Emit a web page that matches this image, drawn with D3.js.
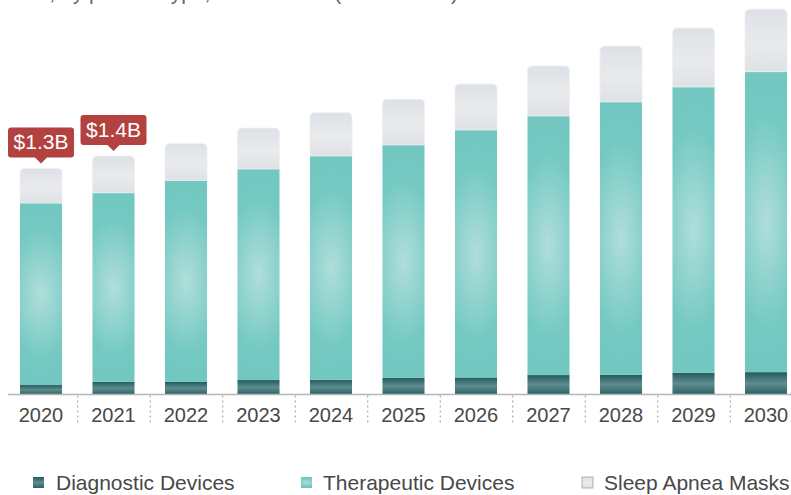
<!DOCTYPE html>
<html>
<head>
<meta charset="utf-8">
<script src="https://cdn.jsdelivr.net/npm/d3@7/dist/d3.min.js"></script>
<style>
  html, body { margin: 0; padding: 0; background: #fff; }
  svg { display: block; font-family: "Liberation Sans", Arial, Helvetica, sans-serif; }
</style>
</head>
<body>
<svg id="chart" width="791" height="495"></svg>
<script>
// Market size by product type, USD million
const years = ["2020", "2021", "2022", "2023", "2024", "2025", "2026", "2027", "2028", "2029", "2030"];
const diagnostic = [55, 74, 73, 84, 86, 97, 99, 113, 115, 127, 130];
const therapeutic = [1058, 1099, 1172, 1227, 1301, 1354, 1439, 1506, 1586, 1661, 1747];
const masks = [201, 214, 215, 238, 251, 265, 267, 291, 325, 343, 363];
const seriesNames = ["Diagnostic Devices", "Therapeutic Devices", "Sleep Apnea Masks"];
const calloutYears = ["2020", "2021"];
const titleText = "size, by product type, 2020 - 2030 (USD Million)";

const svg = d3.select("#chart");
const W = 791, H = 495;
const baseY = 394.5;

const x = d3.scaleBand()
  .domain(years)
  .range([4.75, 802.25])
  .paddingInner(0.42)
  .paddingOuter(0.21);

const y = d3.scaleLinear()
  .domain([0, 2300])
  .range([baseY, baseY - 2300 * 0.172]);

const defs = svg.append("defs");

// Diagnostic: dark teal with a lighter band through the middle
const gDiag = defs.append("linearGradient").attr("id", "gDiag")
  .attr("x1", 0).attr("y1", 0).attr("x2", 0).attr("y2", 1);
[[0, "#245b5c"], [0.5, "#5f8c8e"], [1, "#2a6264"]].forEach(([o, c]) =>
  gDiag.append("stop").attr("offset", o).attr("stop-color", c));

// Therapeutic: teal with a soft glow at the centre, spread across the bar width
const gTher = defs.append("radialGradient").attr("id", "gTher")
  .attr("cx", 0.5).attr("cy", 0.5).attr("r", 0.5)
  .attr("gradientTransform", "translate(0.5,0.5) scale(2.2,1) translate(-0.5,-0.5)");
[[0, "#b0dedb"], [0.72, "#74c9c2"], [1, "#72c8c1"]].forEach(([o, c]) =>
  gTher.append("stop").attr("offset", o).attr("stop-color", c));

// Masks: pale grey with a lighter middle band
const gMask = defs.append("linearGradient").attr("id", "gMask")
  .attr("x1", 0).attr("y1", 0).attr("x2", 0).attr("y2", 1);
[[0, "#dde1e6"], [0.55, "#e9eaec"], [1, "#dee2e6"]].forEach(([o, c]) =>
  gMask.append("stop").attr("offset", o).attr("stop-color", c));

// Title (second line of the heading, running into the top edge)
svg.append("text")
  .attr("x", 12).attr("y", 0)
  .attr("font-size", 21)
  .attr("fill", "#666")
  .text(titleText);

// Stacked bar data
const rows = years.map((yr, i) => ({
  year: yr,
  diag: diagnostic[i],
  ther: therapeutic[i],
  mask: masks[i],
  total: diagnostic[i] + therapeutic[i] + masks[i]
}));

const bw = x.bandwidth();
const bars = svg.append("g").selectAll("g").data(rows).join("g");

bars.append("rect")
  .attr("x", d => x(d.year))
  .attr("width", bw)
  .attr("y", d => y(d.diag))
  .attr("height", d => y(0) - y(d.diag))
  .attr("fill", "url(#gDiag)");

bars.append("rect")
  .attr("x", d => x(d.year))
  .attr("width", bw)
  .attr("y", d => y(d.diag + d.ther))
  .attr("height", d => y(d.diag) - y(d.diag + d.ther))
  .attr("fill", "url(#gTher)");

// Top segment with softened top corners
const r = 5;
bars.append("path")
  .attr("d", d => {
    const x0 = x(d.year), x1 = x0 + bw;
    const yt = y(d.total), yb = y(d.diag + d.ther);
    return `M${x0},${yb}L${x0},${yt + r}Q${x0},${yt} ${x0 + r},${yt}` +
      `L${x1 - r},${yt}Q${x1},${yt} ${x1},${yt + r}L${x1},${yb}Z`;
  })
  .attr("fill", "url(#gMask)")
  .attr("stroke", "#eef0f2")
  .attr("stroke-width", 0.8);

// Baseline
svg.append("line")
  .attr("x1", 8).attr("x2", W)
  .attr("y1", baseY).attr("y2", baseY)
  .attr("stroke", "#b5b5b5").attr("stroke-width", 1.5);

// Dashed dividers between categories
const step = x.step();
svg.append("g").selectAll("line")
  .data(years.slice(1))
  .join("line")
  .attr("x1", d => x(d) - step * 0.21 + 0.5)
  .attr("x2", d => x(d) - step * 0.21 + 0.5)
  .attr("y1", baseY + 1).attr("y2", baseY + 30)
  .attr("stroke", "#9a9a9a")
  .attr("stroke-width", 1)
  .attr("stroke-dasharray", "2,3");

// Category labels
const axis = d3.axisBottom(x).tickSize(0).tickSizeOuter(0);
const axG = svg.append("g")
  .attr("transform", `translate(0,${baseY})`)
  .call(axis);
axG.select(".domain").remove();
axG.selectAll("text")
  .attr("y", 27.5).attr("dy", 0)
  .attr("font-size", 20)
  .attr("font-family", "Liberation Sans, Arial, sans-serif")
  .attr("fill", "#484848");

// Total value callouts
const fmt = v => "$" + (v / 1000).toFixed(1) + "B";
const callouts = svg.append("g").selectAll("g")
  .data(rows.filter(d => calloutYears.includes(d.year)))
  .join("g");
const bwBox = 66, bhBox = 30;
callouts.append("path")
  .attr("d", d => {
    const cx = x(d.year) + bw / 2;
    const bottom = y(d.total) - 11;
    const top = bottom - bhBox;
    const l = cx - bwBox / 2, rr = cx + bwBox / 2, k = 3;
    return `M${l + k},${top}L${rr - k},${top}Q${rr},${top} ${rr},${top + k}` +
      `L${rr},${bottom - k}Q${rr},${bottom} ${rr - k},${bottom}` +
      `L${cx + 6},${bottom}L${cx},${bottom + 6}L${cx - 6},${bottom}` +
      `L${l + k},${bottom}Q${l},${bottom} ${l},${bottom - k}` +
      `L${l},${top + k}Q${l},${top} ${l + k},${top}Z`;
  })
  .attr("fill", "#b3413f");
callouts.append("text")
  .attr("x", d => x(d.year) + bw / 2)
  .attr("y", d => y(d.total) - 19)
  .attr("text-anchor", "middle")
  .attr("font-size", 21)
  .attr("fill", "#fff")
  .text(d => fmt(d.total));

// Legend
const legendX = [33, 301, 582];
const legendFill = ["url(#gDiag)", "url(#gTher)", "url(#gMask)"];
const legend = svg.append("g").selectAll("g")
  .data(seriesNames)
  .join("g")
  .attr("transform", (d, i) => `translate(${legendX[i]},0)`);
legend.append("rect")
  .attr("x", 0).attr("y", 477)
  .attr("width", 11).attr("height", 11)
  .attr("fill", (d, i) => legendFill[i])
  .attr("stroke", (d, i) => i === 2 ? "#9aa0a6" : "none")
  .attr("stroke-width", 0.8);
legend.append("text")
  .attr("x", (d, i) => i === 0 ? 23 : 22)
  .attr("y", 490)
  .attr("font-size", 21)
  .attr("fill", "#484848")
  .text(d => d);
</script>
</body>
</html>
